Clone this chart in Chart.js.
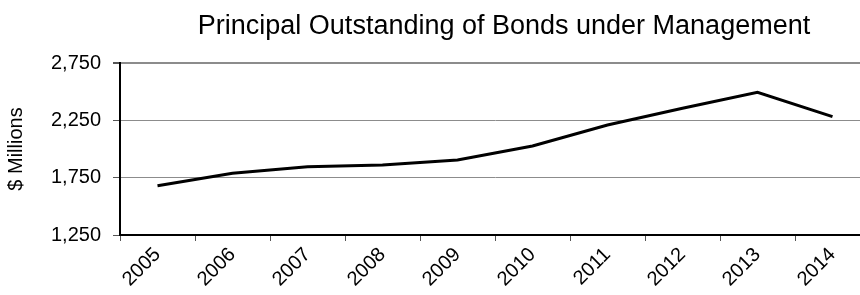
<!DOCTYPE html>
<html>
<head>
<meta charset="utf-8">
<script src="https://cdn.jsdelivr.net/npm/chart.js@4"></script>
<style>
  html, body { margin: 0; padding: 0; background: #fff; overflow: hidden; }
  #wrap { width: 880px; height: 295px; }
</style>
</head>
<body>
<div id="wrap"><canvas id="bonds-chart" width="880" height="295"></canvas></div>
<script>
// Chart data
const years = ['2005', '2006', '2007', '2008', '2009', '2010', '2011', '2012', '2013', '2014'];
const principal = [1680, 1788, 1846, 1860, 1904, 2026, 2209, 2355, 2494, 2282];
const yTicks = [1250, 1750, 2250, 2750];
const chartTitle = 'Principal Outstanding of Bonds under Management';
const yAxisTitle = '$ Millions';

const FONT = '"Liberation Sans", Arial, sans-serif';

// Title is centred a bit right of the canvas middle, so draw it ourselves
const titlePlugin = {
    id: 'offsetTitle',
    afterDraw(chart) {
        const ctx = chart.ctx;
        ctx.save();
        ctx.font = '27px ' + FONT;
        ctx.fillStyle = '#000';
        ctx.textAlign = 'center';
        ctx.textBaseline = 'alphabetic';
        ctx.fillText(chartTitle, 504, 34);
        ctx.restore();
    }
};

const ctx = document.getElementById('bonds-chart').getContext('2d');
const bondsChart = new Chart(ctx, {
    type: 'line',
    data: {
        labels: years,
        datasets: [{
            label: 'Principal',
            data: principal,
            borderColor: '#000',
            borderWidth: 3,
            pointRadius: 0,
            tension: 0,
            fill: false
        }]
    },
    options: {
        responsive: false,
        animation: false,
        layout: {
            padding: { top: 63, right: 10, left: 0, bottom: 0 }
        },
        plugins: {
            legend: { display: false },
            tooltip: { enabled: false }
        },
        scales: {
            x: {
                offset: true,
                grid: {
                    offset: true,
                    drawOnChartArea: false,
                    drawTicks: true,
                    tickLength: 6,
                    color: '#555'
                },
                border: { color: '#000', width: 2 },
                ticks: {
                    color: '#000',
                    font: { family: FONT, size: 20 },
                    minRotation: 45,
                    maxRotation: 45,
                    autoSkip: false,
                    padding: 2
                },
                afterFit(scale) { scale.height = 60; }
            },
            y: {
                min: 1250,
                max: 2750,
                afterBuildTicks(scale) {
                    scale.ticks = yTicks.map(v => ({ value: v }));
                },
                grid: {
                    color: '#8c8c8c',
                    lineWidth: c => (c.tick && c.tick.value === 2750 ? 2 : 1),
                    tickLength: 7,
                    tickColor: '#555'
                },
                border: { color: '#000', width: 2 },
                ticks: {
                    color: '#000',
                    font: { family: FONT, size: 20 },
                    padding: 12,
                    callback: v => v.toLocaleString('en-US')
                },
                title: {
                    display: true,
                    text: yAxisTitle,
                    color: '#000',
                    font: { family: FONT, size: 20 },
                    padding: { top: 4, bottom: 0 }
                },
                afterFit(scale) { scale.width = 120; }
            }
        }
    },
    plugins: [titlePlugin]
});
</script>
</body>
</html>
